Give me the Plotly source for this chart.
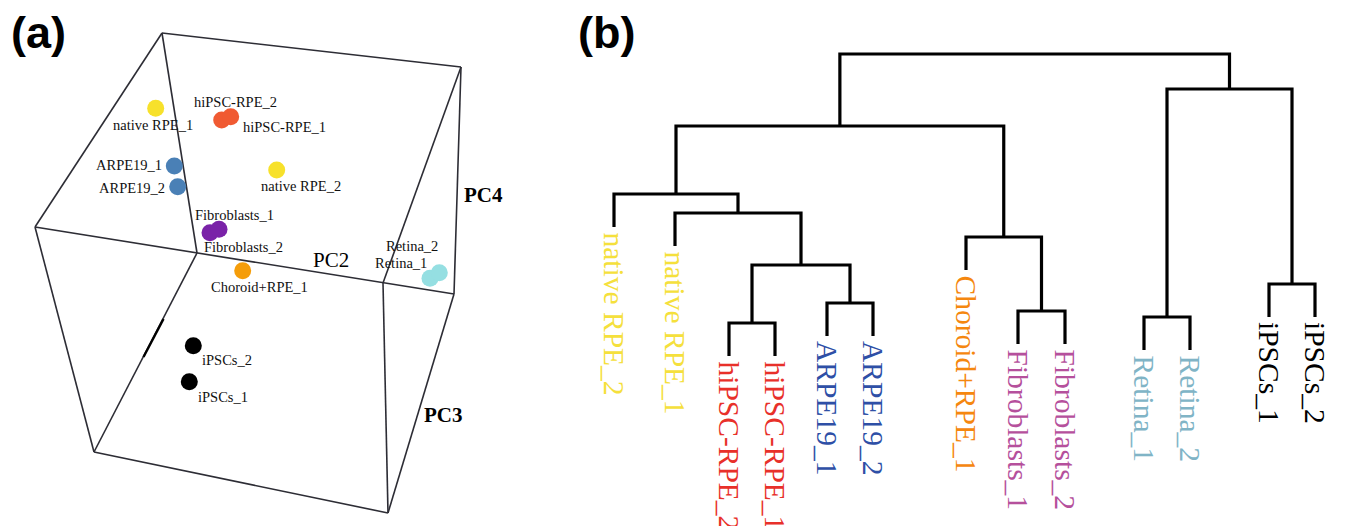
import plotly.graph_objects as go

# ---------------- Panel (a): projected PCA coordinates ----------------
pca_groups = ["native RPE", "hiPSC-RPE", "ARPE19", "Fibroblasts", "Choroid+RPE", "Retina", "iPSCs"]
pca_group_colors = ["#f7e12b", "#f05a32", "#4a80b6", "#7a22a8", "#f59d0a", "#95dfe2", "#000000"]
pca_x = [[155.7, 276.7], [221.7, 230.7], [174.3, 177.7], [210.0, 219.0], [242.7], [430.0, 439.3], [193.3, 189.3]]
pca_y = [[108.3, 170.0], [120.0, 116.7], [166.0, 186.7], [232.7, 229.3], [270.7], [278.3, 272.7], [345.7, 381.7]]

pca_labels = ["native RPE_1", "hiPSC-RPE_2", "hiPSC-RPE_1", "ARPE19_1", "ARPE19_2", "native RPE_2",
              "Fibroblasts_1", "Fibroblasts_2", "Retina_2", "Retina_1", "Choroid+RPE_1", "iPSCs_2", "iPSCs_1"]
pca_label_x = [153.0, 235.0, 284.0, 129.0, 131.7, 301.0, 234.5, 243.0, 412.0, 401.0, 259.0, 227.3, 223.3]
pca_label_y = [125.0, 101.5, 127.0, 165.3, 188.3, 186.0, 214.5, 247.0, 245.7, 263.3, 286.7, 360.0, 396.7]

# box (wireframe) corners in projected coordinates
box_x0 = [162, 162, 162, 461, 461, 35, 35, 197, 94, 383, 454]
box_y0 = [33, 33, 33, 67, 67, 227, 227, 253, 452, 283, 294]
box_x1 = [461, 35, 197, 454, 383, 454, 94, 94, 388, 388, 388]
box_y1 = [67, 227, 253, 294, 283, 294, 452, 452, 513, 513, 513]
# darker stroke on part of one edge
accent_x = [163.5, 143.5]
accent_y = [319.0, 357.0]

axis_names = ["PC2", "PC4", "PC3"]
axis_name_x = [330.5, 483.7, 443.0]
axis_name_y = [260.0, 195.0, 415.0]
axis_name_bold = [False, True, True]

# ---------------- Panel (b): dendrogram ----------------
leaf_labels = ["native RPE_2", "native RPE_1", "hiPSC-RPE_2", "hiPSC-RPE_1", "ARPE19_1", "ARPE19_2",
               "Choroid+RPE_1", "Fibroblasts_1", "Fibroblasts_2", "Retina_1", "Retina_2", "iPSCs_1", "iPSCs_2"]
leaf_colors = ["#f5e03c", "#f5e03c", "#e8302a", "#e8302a", "#2e4fa6", "#2e4fa6",
               "#f5870f", "#b5509c", "#b5509c", "#80b4c6", "#80b4c6", "#000000", "#000000"]
leaf_pos = [614, 675, 729, 775, 827, 873, 966, 1018, 1065, 1144, 1190, 1269, 1315]
# linkage: node n (13..24) joins merge_a[n-13] and merge_b[n-13] at merge_height[n-13]
merge_a = [2, 4, 13, 1, 0, 7, 6, 17, 9, 11, 21, 20]
merge_b = [3, 5, 14, 15, 16, 8, 18, 19, 10, 12, 22, 23]
merge_height = [0.57, 0.77, 1.15, 1.67, 1.86, 0.69, 1.43, 2.54, 0.63, 0.96, 2.91, 3.26]
leaf_hang = 0.33

fig = go.Figure()

# box edges
bx, by = [], []
for a, b, c, d in zip(box_x0, box_y0, box_x1, box_y1):
    bx += [a, c, None]
    by += [b, d, None]
fig.add_trace(go.Scatter(x=bx, y=by, mode="lines", line=dict(color="#2d2d35", width=1.6),
                         hoverinfo="skip", showlegend=False, xaxis="x", yaxis="y"))
fig.add_trace(go.Scatter(x=accent_x, y=accent_y, mode="lines", line=dict(color="#000000", width=2.4),
                         hoverinfo="skip", showlegend=False, xaxis="x", yaxis="y"))

# points
for name, col, xs, ys in zip(pca_groups, pca_group_colors, pca_x, pca_y):
    fig.add_trace(go.Scatter(x=xs, y=ys, mode="markers", name=name,
                             marker=dict(size=17, color=col, line=dict(width=0)),
                             showlegend=False, xaxis="x", yaxis="y"))

annotations = []
for t, x, y in zip(pca_labels, pca_label_x, pca_label_y):
    annotations.append(dict(x=x, y=y, xref="x", yref="y", text=t, showarrow=False,
                            xanchor="center", yanchor="middle",
                            font=dict(family="Liberation Serif", size=14.5, color="#111111")))
for t, x, y, b in zip(axis_names, axis_name_x, axis_name_y, axis_name_bold):
    annotations.append(dict(x=x, y=y, xref="x", yref="y", text=f"<b>{t}</b>" if b else t, showarrow=False,
                            xanchor="center", yanchor="middle",
                            font=dict(family="Liberation Serif", size=21, color="#000000")))

# dendrogram
n = len(leaf_pos)
node_x = list(leaf_pos)
node_h = [None] * n
for a, b, h in zip(merge_a, merge_b, merge_height):
    node_x.append((node_x[a] + node_x[b]) / 2)
    node_h.append(h)
leaf_end = [None] * n
dx, dy = [], []
for a, b, h in zip(merge_a, merge_b, merge_height):
    ya = node_h[a] if a >= n else h - leaf_hang
    yb = node_h[b] if b >= n else h - leaf_hang
    if a < n:
        leaf_end[a] = ya
    if b < n:
        leaf_end[b] = yb
    dx += [node_x[a], node_x[a], node_x[b], node_x[b], None]
    dy += [ya, h, h, yb, None]
fig.add_trace(go.Scatter(x=dx, y=dy, mode="lines", line=dict(color="#000000", width=3.2),
                         hoverinfo="skip", showlegend=False, xaxis="x2", yaxis="y2"))

for t, c, x, y in zip(leaf_labels, leaf_colors, leaf_pos, leaf_end):
    annotations.append(dict(x=x, y=y - 0.03, xref="x2", yref="y2", text=t, showarrow=False,
                            textangle=90, xanchor="center", yanchor="top",
                            font=dict(family="Liberation Serif", size=29.5, color=c)))

annotations.append(dict(x=9 / 1346, y=1 - 5 / 526, xref="paper", yref="paper", text="<b>(a)</b>",
                        showarrow=False, xanchor="left", yanchor="top",
                        font=dict(family="Liberation Sans", size=45, color="#000000")))
annotations.append(dict(x=576 / 1346, y=1 - 5 / 526, xref="paper", yref="paper", text="<b>(b)</b>",
                        showarrow=False, xanchor="left", yanchor="top",
                        font=dict(family="Liberation Sans", size=45, color="#000000")))

fig.update_layout(
    width=1346, height=526, margin=dict(l=0, r=0, t=0, b=0),
    paper_bgcolor="white", plot_bgcolor="white", showlegend=False,
    xaxis=dict(domain=[0, 520 / 1346], range=[0, 520], visible=False),
    yaxis=dict(domain=[0, 1], range=[526, 0], visible=False),
    xaxis2=dict(domain=[560 / 1346, 1], range=[560, 1346], visible=False, anchor="y2"),
    yaxis2=dict(domain=[0, 1], range=[-1.46, 3.8], visible=False, anchor="x2"),
    annotations=annotations,
)

fig.write_html("out.html", config={"displayModeBar": False},
               post_script="document.body.style.margin='0';document.body.style.overflow='hidden';")
